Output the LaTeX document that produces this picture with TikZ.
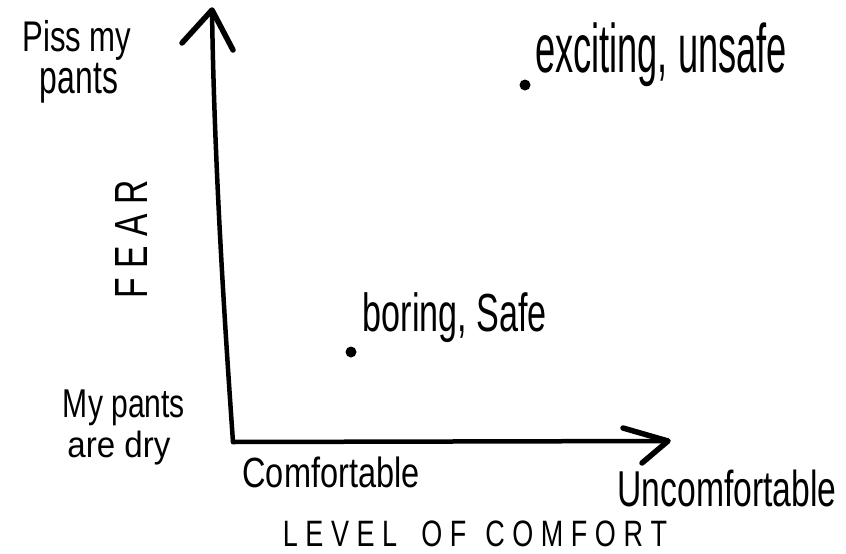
\documentclass[tikz,border=0pt]{standalone}
\usepackage{graphicx}
\usepackage{fontspec}
\setmainfont{Liberation Sans}
\newcommand{\fitbox}[3]{\resizebox*{#1pt}{#2pt}{#3}}
\newcommand{\ls}{\hspace{0.28em}}
\begin{document}
\begin{tikzpicture}[x=1pt,y=-1pt,
  lbl/.style={inner sep=0pt,outer sep=0pt,anchor=center},
  axisline/.style={line width=4.5pt,line cap=round,line join=round},
  headline/.style={line width=5.5pt,line cap=round,line join=round},
  dot/.style={circle,fill=black,inner sep=0pt,minimum size=11pt}]
\useasboundingbox (0,0) rectangle (846,554);
\fill[white] (0,0) rectangle (846,554);
% axes
\coordinate (O) at (233,442);
\coordinate (ytip) at (212,10);
\coordinate (yl) at (182,43);
\coordinate (yr) at (233,50);
\coordinate (xtip) at (668,441);
\coordinate (xu) at (623,428);
\coordinate (xd) at (642,463);
\draw[axisline] (O) .. controls (223,300) and (214,150) .. (ytip);
\draw[axisline] (O) -- (xtip);
\draw[headline] (yl) -- (ytip) -- (yr);
\draw[headline] (xu) -- (xtip) -- (xd);
% dots
\node[dot] (d1) at (525,85) {};
\node[dot] (d2) at (351,352) {};
% labels
\node[lbl] (piss) at (77,40) {\fitbox{109}{40}{Piss my}};
\node[lbl] (pants) at (79,83) {\fitbox{78}{40}{pants}};
\node[lbl,rotate=90] (fear) at (131,239) {\fitbox{118}{32}{F\ls E\ls A\ls R}};
\node[lbl] (mypants) at (124,408) {\fitbox{122}{36}{My pants}};
\node[lbl] (aredry) at (119,448) {\fitbox{103}{34}{are dry}};
\node[lbl] (exc) at (661,55) {\fitbox{252}{64}{exciting, unsafe}};
\node[lbl] (bor) at (455,318) {\fitbox{184}{50}{boring, Safe}};
\node[lbl] (comf) at (331,472) {\fitbox{177}{31}{Comfortable}};
\node[lbl] (uncomf) at (727,488) {\fitbox{219}{37}{Uncomfortable}};
\node[lbl] (level) at (475,534) {\fitbox{384}{26}{L\ls E\ls V\ls E\ls L\hspace{0.9em}O\ls F\hspace{0.7em}C\ls O\ls M\ls F\ls O\ls R\ls T}};
\end{tikzpicture}
\end{document}
